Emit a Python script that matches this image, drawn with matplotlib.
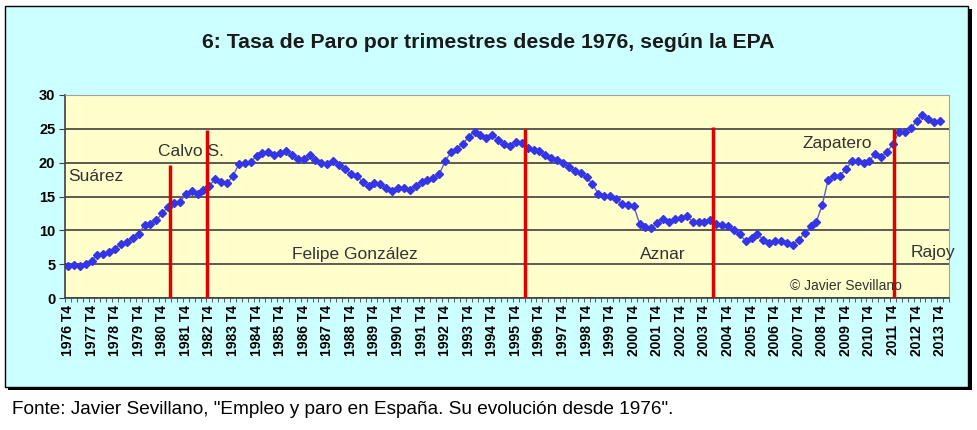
import matplotlib
matplotlib.use("Agg")
import matplotlib.pyplot as plt
from matplotlib.patches import Rectangle
import numpy as np

plt.rcParams['font.family'] = ['Liberation Sans', 'DejaVu Sans']

# tasa de paro EPA, un valor por trimestre desde 1976 T4 hasta 2013 T4
tasa_paro = [
    4.7, 4.9, 4.8, 5.0, 5.5, 6.4, 6.5, 6.8, 7.3, 8.0, 8.3, 8.8, 9.5,
    10.8, 10.9, 11.5, 12.5, 13.5, 14.0, 14.2, 15.3, 15.8, 15.4, 16.0, 16.6,
    17.6, 17.2, 17.0, 18.0, 19.8, 19.9, 20.1, 21.0, 21.4, 21.6, 21.2, 21.4,
    21.7, 21.1, 20.6, 20.5, 21.1, 20.4, 19.9, 19.8,
    20.3, 19.6, 19.1, 18.3, 18.1, 17.1, 16.5, 17.0, 16.8, 16.3, 15.8, 16.2,
    16.3, 16.0, 16.5, 17.1, 17.4, 17.7, 18.3, 20.2, 21.6, 22.0, 22.8, 23.8,
    24.6, 24.1, 23.6, 24.1, 23.4, 22.8, 22.5, 23.0, 22.9, 22.2, 21.8, 21.7,
    21.2, 20.7, 20.4, 20.0, 19.4, 18.8, 18.4, 17.9, 16.8, 15.4, 15.1, 15.1,
    14.6, 13.9, 13.7, 13.6, 11.0, 10.5, 10.4,
    11.1, 11.7, 11.2, 11.7, 11.8, 12.1, 11.3, 11.3, 11.3, 11.5, 11.0, 10.8,
    10.7, 10.1, 9.4, 8.4, 8.9, 9.4, 8.6, 8.2, 8.4, 8.4, 8.2, 7.9, 8.6, 9.6,
    10.6, 11.3, 13.8, 17.5, 18.0, 18.1, 19.0, 20.2, 20.2, 19.9, 20.3, 21.3,
    20.8, 21.6, 22.8, 24.5, 24.6, 25.1, 26.1, 27.1, 26.4, 26.0, 26.1,
]
years = list(range(1976, 2014))
tick_labels = [f"{y} T4" for y in years]

# cambios de gobierno (trimestres desde 1976 T4) y altura de cada raya
gov_changes = [17.3, 23.6, 77.6, 109.5, 140.1]
gov_tops = [19.7, 24.8, 25.0, 25.3, 25.0]
presidents = ["Suárez", "Calvo S.", "Felipe González", "Aznar", "Zapatero", "Rajoy"]

W, H = 977, 430
fig = plt.figure(figsize=(W / 100, H / 100), dpi=100)


def px_box(x0, y0, x1, y1):
    return (x0 / W, 1 - y1 / H), (x1 - x0) / W, (y1 - y0) / H


# marco exterior con sombra (por debajo de los ejes)
xy, w, h = px_box(8, 9, 972, 390)
fig.add_artist(Rectangle(xy, w, h, transform=fig.transFigure, fc='black', ec='none', zorder=-10))
xy, w, h = px_box(5, 6, 968, 387)
fig.add_artist(Rectangle(xy, w, h, transform=fig.transFigure, fc='#ccffff', ec='black', lw=1,
                         zorder=-9))

fig.text(0.5, 1 - 42 / H, "6: Tasa de Paro por trimestres desde 1976, según la EPA",
         ha='center', va='center', fontsize=15.3, fontweight='bold', color='#1a1a1a')
fig.text(12 / W, 1 - 410 / H,
         'Fonte: Javier Sevillano, "Empleo y paro en España. Su evolución desde 1976".',
         ha='left', va='center', fontsize=13.7, color='black')

ax = fig.add_axes([65 / W, 1 - 298 / H, 884 / W, 203 / H])
ax.set_facecolor('#ffffcc')

x = np.arange(len(tasa_paro))
ax.plot(x, tasa_paro, color='#6060c8', lw=1, marker='D', ms=4.5,
        mfc='#3535e8', mec='#3535e8', zorder=2)

# rayas rojas de cambio de gobierno
ax.vlines(gov_changes, 0, gov_tops, color='#e00000', lw=2.5, zorder=3)

# el eje tiene un hueco vacio al final (150 categorias)
n_cat = len(tasa_paro) + 1
ax.set_xlim(-0.5, n_cat - 0.5)
ax.set_ylim(0, 30)
ax.set_yticks(range(0, 31, 5))
ax.yaxis.grid(True, color='#404040', lw=1.2)
ax.set_axisbelow(True)

ax.set_xticks(x[::4])
ax.set_xticklabels(tick_labels, rotation=90, fontsize=10, fontweight='bold')
ax.set_xticks(np.arange(-0.5, n_cat, 1), minor=True)
ax.tick_params(axis='x', which='major', length=0, pad=5)
ax.tick_params(axis='x', which='minor', length=3, color='#404040')
ax.tick_params(axis='y', length=4, color='#404040', labelsize=10.5, pad=3)
for lab in ax.get_yticklabels():
    lab.set_fontweight('bold')

for side in ['left', 'bottom']:
    ax.spines[side].set_color('#404040')
    ax.spines[side].set_linewidth(1.2)
for side in ['top', 'right']:
    ax.spines[side].set_color('#a0a0a0')

# nombres de presidentes
label_pos = [(0, 17.9), (15.3, 21.6), (38, 6.4), (97.1, 6.5), (124.6, 22.8), (143, 6.7)]
for name, (px, py) in zip(presidents, label_pos):
    ax.text(px, py, name, ha='left', va='center', fontsize=12.5, color='#333333', zorder=4)
ax.text(122.5, 1.7, "© Javier Sevillano", ha='left', va='center', fontsize=10,
        color='#333333', zorder=4)

fig.savefig("out.png", dpi=100)
